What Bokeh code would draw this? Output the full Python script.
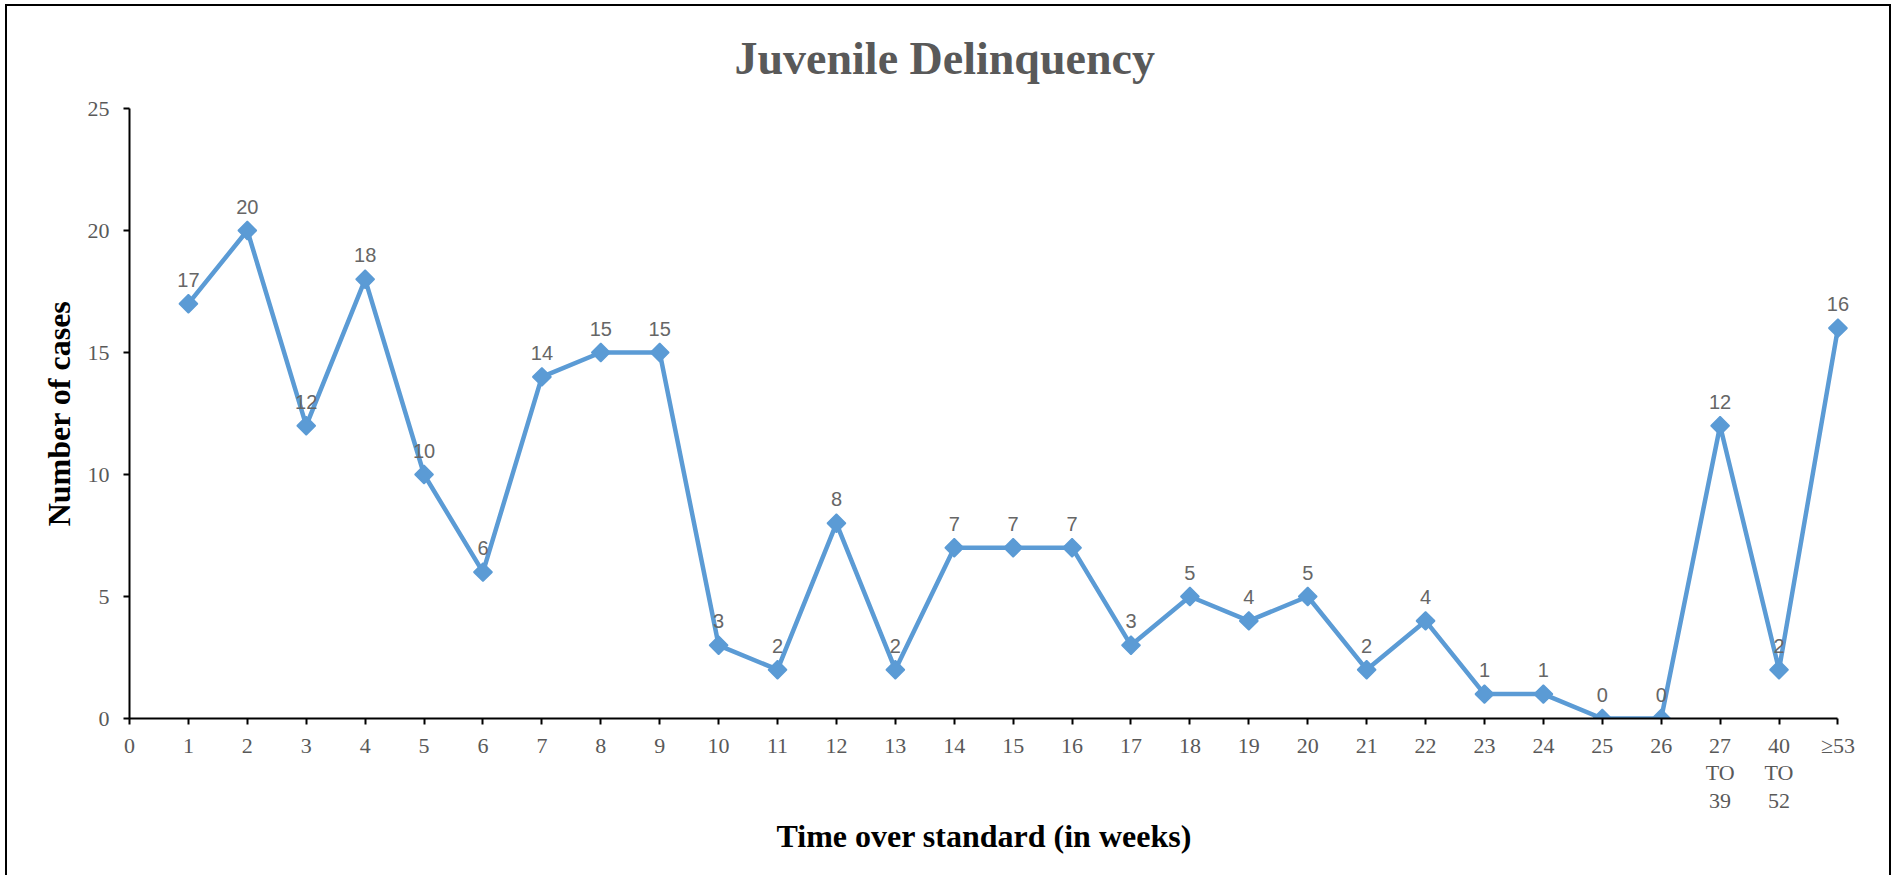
import math
from bokeh.plotting import figure
from bokeh.models import ColumnDataSource, FixedTicker, Range1d, Title
from bokeh.core.properties import value
from bokeh.embed import file_html
from bokeh.resources import INLINE

# ---- data ----
categories = ["1", "2", "3", "4", "5", "6", "7", "8", "9", "10", "11", "12", "13",
              "14", "15", "16", "17", "18", "19", "20", "21", "22", "23", "24", "25",
              "26", "27\nTO\n39", "40\nTO\n52", "\u226553"]
cases = [17, 20, 12, 18, 10, 6, 14, 15, 15, 3, 2, 8, 2, 7, 7, 7, 3, 5, 4, 5, 2, 4,
         1, 1, 0, 0, 12, 2, 16]
tick_labels = ["0"] + categories
y_ticks = [0, 5, 10, 15, 20, 25]

title_text = "Juvenile Delinquency"
x_title = "Time over standard (in weeks)"
y_title = "Number of cases"

BLUE = "#5B9BD5"
GRAY = "#595959"
SERIF = "Liberation Serif"

positions = list(range(1, len(categories) + 1))
src = ColumnDataSource(dict(x=positions, y=cases, lbl=[str(v) for v in cases]))
n = len(categories)

p = figure(width=1886, height=871, output_backend="svg", toolbar_location=None,
           x_range=Range1d(0, n + 0.4), y_range=Range1d(0, 25),
           min_border_left=122, min_border_right=32, min_border_top=101,
           min_border_bottom=159, title=None)
p.styles = {"border-top": "2px solid black", "border-left": "2px solid black",
            "border-right": "2px solid black", "margin-left": "5px",
            "margin-top": "4px"}

p.outline_line_color = None
p.xgrid.grid_line_color = None
p.ygrid.grid_line_color = None
p.background_fill_color = "white"
p.border_fill_color = "white"

# axes
for ax in (p.xaxis[0], p.yaxis[0]):
    ax.axis_line_color = "black"
    ax.axis_line_width = 2
    ax.major_tick_line_color = "black"
    ax.major_tick_line_width = 2
    ax.major_tick_in = 0
    ax.major_tick_out = 6
    ax.minor_tick_line_color = None
    ax.major_label_text_font = SERIF
    ax.major_label_text_color = GRAY
    ax.major_label_text_font_size = "22px"

p.xaxis.bounds = (0, n)
p.xaxis.ticker = FixedTicker(ticks=list(range(len(tick_labels))))
p.xaxis.major_label_overrides = {i: t for i, t in enumerate(tick_labels)}
p.xaxis.major_label_standoff = 8
p.xaxis.major_label_text_line_height = 1.1

p.yaxis.ticker = FixedTicker(ticks=y_ticks)
p.yaxis.major_label_standoff = 14
p.yaxis.axis_label = y_title
p.yaxis.axis_label_text_font = SERIF
p.yaxis.axis_label_text_font_style = "bold"
p.yaxis.axis_label_text_font_size = "32px"
p.yaxis.axis_label_text_color = "black"
p.yaxis.axis_label_standoff = 8

# series
p.line("x", "y", source=src, line_color=BLUE, line_width=4.5)
p.scatter("x", "y", source=src, marker="square", angle=math.pi / 4, size=13,
          fill_color=BLUE, line_color=BLUE, line_width=1.5)
p.text("x", "y", text="lbl", source=src, y_offset=-24, text_align="center",
       text_baseline="alphabetic", text_color="#666666", text_font_size="20px",
       text_font=value("Liberation Sans"))

# titles
p.add_layout(Title(text=title_text, align="left", offset=605, standoff=49,
                   text_font=SERIF, text_font_style="bold", text_font_size="46px",
                   text_color=GRAY), "above")
p.add_layout(Title(text=x_title, align="left", offset=647, standoff=0,
                   text_font=SERIF, text_font_style="bold", text_font_size="32px",
                   text_color="black"), "below")

open("out.html", "w").write(file_html(p, INLINE))
